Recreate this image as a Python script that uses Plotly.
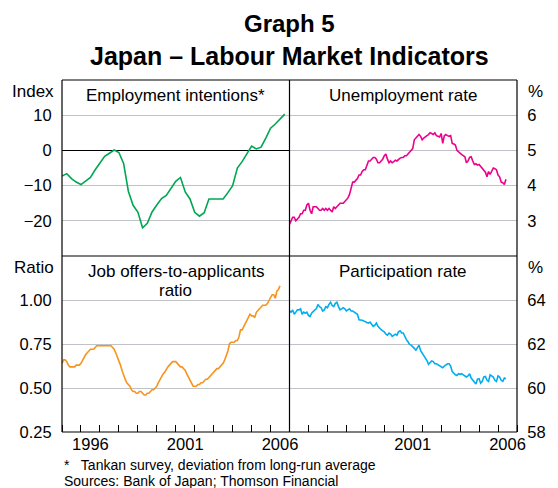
import numpy as np
import plotly.graph_objects as go

# Employment intentions (Tankan, quarterly, deviation from long-run average)
intent_start = 1995.0
intentions = [-7.3, -6.6, -8.0, -9.0, -9.7, -8.8, -7.7, -5.5,
              -3.5, -1.7, -0.8, 0.1, -0.6, -3.7, -11.6, -15.6,
              -17.5, -22.0, -20.7, -17.5, -15.5, -13.7, -12.8, -10.8,
              -8.8, -7.7, -11.8, -13.8, -17.6, -18.7, -17.7, -13.8,
              -13.8, -13.8, -13.8, -12.0, -10.0, -5.0, -3.2, -1.0,
              1.2, 0.4, 0.9, 3.5, 6.3, 7.5, 8.8, 10.3]

# Unemployment rate, monthly from Jan 1995 (%)
unemployment = [
    2.9, 3.0, 3.1, 3.1, 3.0, 3.05, 3.1, 3.2, 3.2, 3.3, 3.3, 3.45,
    3.5, 3.3, 3.2, 3.4, 3.4, 3.4, 3.35, 3.3, 3.3, 3.35, 3.3, 3.35,
    3.3, 3.35, 3.3, 3.25, 3.4, 3.35, 3.4, 3.45, 3.5, 3.5, 3.5, 3.55,
    3.6, 3.65, 3.75, 3.95, 4.1, 4.1, 4.15, 4.2, 4.3, 4.3, 4.4, 4.45,
    4.45, 4.6, 4.7, 4.7, 4.75, 4.8, 4.8, 4.75, 4.65, 4.65, 4.7, 4.75,
    4.85, 4.9, 4.75, 4.65, 4.7, 4.65, 4.68, 4.72, 4.7, 4.75, 4.78, 4.8,
    4.8, 4.85, 4.85, 4.9, 4.95, 5.0, 5.05, 5.3, 5.35, 5.4, 5.45, 5.4,
    5.3, 5.35, 5.4, 5.42, 5.45, 5.5, 5.48, 5.45, 5.5, 5.42, 5.4, 5.38,
    5.48, 5.2, 5.42, 5.45, 5.42, 5.4, 5.42, 5.2, 5.18, 5.15, 5.0, 4.95,
    4.9, 4.88, 4.85, 4.82, 4.65, 4.7, 4.8, 4.82, 4.7, 4.6, 4.62, 4.58,
    4.6, 4.55, 4.5, 4.45, 4.38, 4.25, 4.4, 4.32, 4.42, 4.5, 4.48, 4.45,
    4.3, 4.25, 4.1, 4.08, 4.03, 4.18]

# Job offers-to-applicants ratio, monthly from Jan 1995
job_ratio = [
    0.64, 0.66, 0.66, 0.65, 0.63, 0.62, 0.62, 0.62, 0.62, 0.63, 0.63, 0.63,
    0.64, 0.66, 0.68, 0.69, 0.70, 0.71, 0.72, 0.72, 0.72, 0.73, 0.74, 0.74,
    0.74, 0.74, 0.74, 0.74, 0.74, 0.74, 0.74, 0.74, 0.73, 0.72, 0.70, 0.68,
    0.66, 0.63, 0.60, 0.57, 0.55, 0.53, 0.52, 0.51, 0.49, 0.48, 0.48, 0.47,
    0.47, 0.48, 0.48, 0.47, 0.46, 0.46, 0.47, 0.47, 0.48, 0.49, 0.49, 0.50,
    0.51, 0.53, 0.55, 0.56, 0.58, 0.59, 0.61, 0.62, 0.63, 0.64, 0.65, 0.65,
    0.65, 0.64, 0.63, 0.62, 0.62, 0.61, 0.60, 0.58, 0.56, 0.54, 0.52, 0.51,
    0.51, 0.51, 0.52, 0.52, 0.53, 0.53, 0.54, 0.55, 0.55, 0.56, 0.57, 0.58,
    0.59, 0.60, 0.61, 0.61, 0.62, 0.63, 0.64, 0.66, 0.68, 0.71, 0.75, 0.76,
    0.76, 0.76, 0.77, 0.77, 0.79, 0.83, 0.83, 0.85, 0.86, 0.88, 0.90, 0.92,
    0.91, 0.91, 0.90, 0.93, 0.94, 0.95, 0.96, 0.97, 0.97, 0.97, 0.98, 1.00,
    1.01, 1.03, 1.03, 1.01, 1.05, 1.06, 1.08]

# Participation rate, monthly from Jan 1995 (%)
participation = [
    63.5, 63.45, 63.55, 63.35, 63.45, 63.55, 63.55, 63.6, 63.35, 63.45, 63.4, 63.45,
    63.3, 63.25, 63.4, 63.5, 63.55, 63.6, 63.8, 63.7, 63.65, 63.5, 63.55, 63.7,
    63.65, 63.8, 63.9, 63.75, 63.7, 63.85, 63.9, 63.7, 63.55, 63.6, 63.65, 63.6,
    63.5, 63.55, 63.6, 63.5, 63.5, 63.45, 63.4, 63.35, 63.1, 63.1, 63.08, 63.05,
    63.0, 62.98, 62.95, 63.0, 62.9, 62.8, 62.85, 62.95, 62.8, 62.7, 62.65, 62.6,
    62.55, 62.45, 62.4, 62.5, 62.45, 62.35, 62.4, 62.45, 62.4, 62.55, 62.6, 62.5,
    62.5, 62.3, 62.2, 62.1, 61.98, 61.95, 61.85, 61.8, 61.72, 61.85, 61.95, 61.7,
    61.6, 61.5, 61.4, 61.25, 61.08, 61.15, 61.23, 61.2, 61.1, 61.1, 61.05, 61.0,
    60.95, 60.92, 61.0, 61.05, 61.1, 61.1, 61.0, 60.75, 60.65, 60.6, 60.57, 60.65,
    60.62, 60.65, 60.6, 60.55, 60.5, 60.55, 60.65, 60.45, 60.35, 60.25, 60.18, 60.4,
    60.42, 60.22, 60.3, 60.5, 60.52, 60.35, 60.3, 60.6, 60.55, 60.5, 60.35, 60.3,
    60.55, 60.5, 60.35, 60.3, 60.45, 60.42]

year_labels_left = ['1996', '2001', '2006']
year_labels_right = ['2001', '2006']

FONT = 'Arial, Liberation Sans, sans-serif'
GRID = '#bfc3c7'
TXT = 17


def monthly_x(values, start=1995.0):
    return start + np.arange(len(values)) / 12.0


q_x = intent_start + np.arange(len(intentions)) / 4.0

fig = go.Figure()
fig.add_trace(go.Scatter(x=q_x, y=intentions, mode='lines',
                         line=dict(color='#00a651', width=1.6),
                         xaxis='x', yaxis='y'))
fig.add_trace(go.Scatter(x=monthly_x(unemployment), y=unemployment, mode='lines',
                         line=dict(color='#ec008c', width=1.6),
                         xaxis='x2', yaxis='y2'))
fig.add_trace(go.Scatter(x=monthly_x(job_ratio), y=job_ratio, mode='lines',
                         line=dict(color='#f7941d', width=1.6),
                         xaxis='x3', yaxis='y3'))
fig.add_trace(go.Scatter(x=monthly_x(participation), y=participation, mode='lines',
                         line=dict(color='#00aeef', width=1.6),
                         xaxis='x4', yaxis='y4'))

xcommon = dict(range=[1995, 2007], showgrid=False, zeroline=False, showline=False,
               tickfont=dict(size=16.5, color='black', family=FONT))
# invisible outside ticks push the labels a little away from the frame
ycommon = dict(showgrid=True, gridcolor=GRID, gridwidth=1, zeroline=False, showline=False,
               ticks='outside', ticklen=6, tickcolor='rgba(0,0,0,0)',
               tickfont=dict(size=16.5, color='black', family=FONT))
minor = dict(ticks='inside', ticklen=7, tick0=1995, dtick=1, tickcolor='black',
             tickwidth=1, showgrid=False)

# page body adds an 8px offset, so the figure is sized/placed to compensate
fig.update_layout(
    width=550, height=480,
    margin=dict(l=48, r=32, t=72, b=56),
    paper_bgcolor='white', plot_bgcolor='white',
    showlegend=False,
    font=dict(family=FONT, color='black'),
    xaxis=dict(xcommon, domain=[0, 0.5], anchor='y', showticklabels=False, ticks=''),
    yaxis=dict(ycommon, domain=[0.5, 1], anchor='x', range=[-30, 20],
               tickvals=[-20, -10, 0, 10], zeroline=True, zerolinecolor='black',
               zerolinewidth=1),
    xaxis2=dict(xcommon, domain=[0.5, 1], anchor='y2', showticklabels=False, ticks=''),
    yaxis2=dict(ycommon, domain=[0.5, 1], anchor='x2', range=[2, 7], side='right',
                tickvals=[3, 4, 5, 6]),
    xaxis3=dict(xcommon, domain=[0, 0.5], anchor='y3', ticks='',
                tickvals=[1996.5, 2001.5, 2006.5], ticktext=year_labels_left,
                minor=minor),
    yaxis3=dict(ycommon, domain=[0, 0.5], anchor='x3', range=[0.25, 1.25],
                tickvals=[0.25, 0.5, 0.75, 1.0], tickformat='.2f'),
    xaxis4=dict(xcommon, domain=[0.5, 1], anchor='y4', ticks='',
                tickvals=[2001.5, 2006.5], ticktext=year_labels_right,
                minor=minor),
    yaxis4=dict(ycommon, domain=[0, 0.5], anchor='x4', range=[58, 66], side='right',
                tickvals=[58, 60, 62, 64]),
)

# panel frame
frame = dict(type='line', xref='paper', yref='paper', line=dict(color='black', width=1.2),
             layer='above')
fig.add_shape(frame, x0=0, x1=1, y0=0, y1=0)
fig.add_shape(frame, x0=0, x1=1, y0=1, y1=1)
fig.add_shape(frame, x0=0, x1=0, y0=0, y1=1)
fig.add_shape(frame, x0=1, x1=1, y0=0, y1=1)
fig.add_shape(frame, x0=0.5, x1=0.5, y0=0, y1=1)
fig.add_shape(frame, x0=0, x1=1, y0=0.5, y1=0.5)

ann = dict(xref='paper', yref='paper', showarrow=False, xanchor='center',
           yanchor='middle', font=dict(size=TXT, family=FONT))
# titles
fig.add_annotation(ann, text='<b>Graph 5</b>', x=0.5, y=1, yshift=72, yanchor='top',
                   font=dict(size=24, family=FONT))
fig.add_annotation(ann, text='<b>Japan – Labour Market Indicators</b>', x=0.5, y=1,
                   yshift=24, font=dict(size=25, family=FONT))
# panel titles
fig.add_annotation(ann, text='Employment intentions*', x=0.25, y=1, yshift=-15)
fig.add_annotation(ann, text='Unemployment rate', x=0.75, y=1, yshift=-15)
fig.add_annotation(ann, text='Job offers-to-applicants', x=0.25, y=0.5, yshift=-15)
fig.add_annotation(ann, text='ratio', x=0.25, y=0.5, yshift=-34)
fig.add_annotation(ann, text='Participation rate', x=0.75, y=0.5, yshift=-15)
# unit labels
fig.add_annotation(ann, text='Index', x=0, y=1, xshift=-6, yshift=-11, xanchor='right')
fig.add_annotation(ann, text='%', x=1, y=1, xshift=9, yshift=-11, xanchor='left')
fig.add_annotation(ann, text='Ratio', x=0, y=0.5, xshift=-6, yshift=-11, xanchor='right')
fig.add_annotation(ann, text='%', x=1, y=0.5, xshift=9, yshift=-11, xanchor='left')
# notes
fig.add_annotation(ann, text='*   Tankan survey, deviation from long-run average', x=0,
                   y=0, yshift=-33, xanchor='left', font=dict(size=14, family=FONT))
fig.add_annotation(ann, text='Sources: Bank of Japan; Thomson Financial', x=0, y=0,
                   yshift=-49, xanchor='left', font=dict(size=14, family=FONT))

fig.write_html("out.html")
